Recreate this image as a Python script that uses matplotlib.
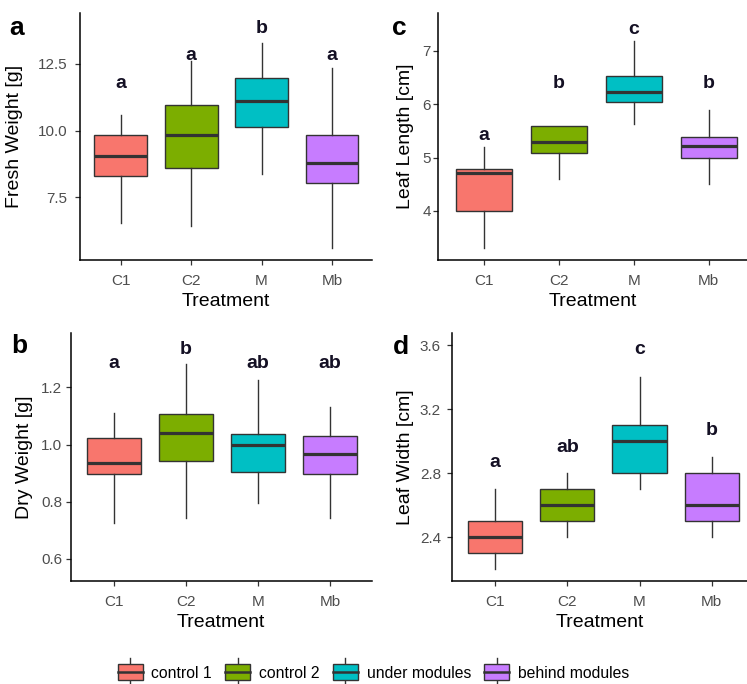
import matplotlib
matplotlib.use("Agg")
import matplotlib.pyplot as plt
from matplotlib.patches import Rectangle, Patch
from matplotlib.lines import Line2D
from matplotlib.legend_handler import HandlerBase

plt.rcParams['font.family'] = ['Liberation Sans', 'DejaVu Sans']

# categories
treatments = ["C1", "C2", "M", "Mb"]
group_names = ["control 1", "control 2", "under modules", "behind modules"]

# fresh weight [g]  (panel a)
fresh_low = [6.54, 6.41, 8.35, 5.58]
fresh_q1 = [8.29, 8.59, 10.15, 8.04]
fresh_med = [9.04, 9.85, 11.11, 8.78]
fresh_q3 = [9.84, 10.94, 11.96, 9.84]
fresh_high = [10.57, 12.59, 13.28, 12.34]
fresh_letters = ["a", "a", "b", "a"]
fresh_letter_y = [11.60, 12.65, 13.65, 12.65]

# dry weight [g]  (panel b)
dry_low = [0.726, 0.745, 0.794, 0.745]
dry_q1 = [0.896, 0.944, 0.904, 0.896]
dry_med = [0.937, 1.041, 1.000, 0.966]
dry_q3 = [1.023, 1.108, 1.036, 1.031]
dry_high = [1.111, 1.283, 1.227, 1.132]
dry_letters = ["a", "b", "ab", "ab"]
dry_letter_y = [1.266, 1.316, 1.266, 1.266]

# leaf length [cm]  (panel c)
len_low = [3.30, 4.60, 5.62, 4.50]
len_q1 = [4.00, 5.08, 6.04, 5.00]
len_med = [4.71, 5.30, 6.22, 5.21]
len_q3 = [4.79, 5.60, 6.53, 5.39]
len_high = [5.19, 5.60, 7.19, 5.90]
len_letters = ["a", "b", "c", "b"]
len_letter_y = [5.33, 6.30, 7.32, 6.30]

# leaf width [cm]  (panel d)
wid_low = [2.2, 2.4, 2.7, 2.4]
wid_q1 = [2.3, 2.5, 2.8, 2.5]
wid_med = [2.4, 2.6, 3.0, 2.6]
wid_q3 = [2.5, 2.7, 3.1, 2.8]
wid_high = [2.7, 2.8, 3.4, 2.9]
wid_letters = ["a", "ab", "c", "b"]
wid_letter_y = [2.837, 2.935, 3.544, 3.039]

colors = ["#F8766D", "#7CAE00", "#00BFC4", "#C77CFF"]
edge = "#333333"


def panel(ax, low, q1, med, q3, high, letters, letter_y, yticks, yticklabels,
          ylim, xlim, ylabel, ylab_x, ypad):
    stats = []
    for i in range(len(treatments)):
        stats.append(dict(whislo=low[i], q1=q1[i], med=med[i], q3=q3[i],
                          whishi=high[i], fliers=[]))
    pos = list(range(1, len(treatments) + 1))
    bp = ax.bxp(stats, positions=pos, widths=0.75, patch_artist=True,
                showcaps=False, showfliers=False,
                boxprops=dict(edgecolor=edge, linewidth=1.0),
                medianprops=dict(color=edge, linewidth=2.3, solid_capstyle='butt'),
                whiskerprops=dict(color=edge, linewidth=1.0))
    for b, c in zip(bp['boxes'], colors):
        b.set_facecolor(c)
    for p, t, y in zip(pos, letters, letter_y):
        ax.text(p, y, t, ha='center', va='baseline', fontsize=14,
                fontweight='bold', color='#141024')
    ax.set_xlim(*xlim)
    ax.set_ylim(*ylim)
    ax.set_xticks(pos)
    ax.set_xticklabels(treatments)
    ax.set_yticks(yticks)
    ax.set_yticklabels(yticklabels)
    for s in ['top', 'right']:
        ax.spines[s].set_visible(False)
    for s in ['left', 'bottom']:
        ax.spines[s].set_linewidth(1.1)
        ax.spines[s].set_color('black')
    ax.tick_params(axis='both', colors='#333333', labelcolor='#4D4D4D',
                   labelsize=11, length=3.5, width=0.9)
    ax.tick_params(axis='x', pad=6.5)
    ax.tick_params(axis='y', pad=ypad)
    ax.set_xlabel("Treatment", fontsize=14)
    ax.set_ylabel(ylabel, fontsize=14)
    ax.xaxis.set_label_coords(0.5, -0.133)
    ax.yaxis.set_label_coords(ylab_x, 0.5)


class BoxKey(HandlerBase):
    def create_artists(self, legend, orig_handle, xdescent, ydescent,
                       width, height, fontsize, trans):
        cx = width / 2 - xdescent
        cy = height / 2 - ydescent
        bh = 12.0
        wh = 9.8
        fc = orig_handle.get_facecolor()
        wl = Line2D([cx, cx], [cy - wh, cy + wh], color=edge, lw=1.0,
                    transform=trans)
        r = Rectangle((-xdescent, cy - bh / 2), width, bh, facecolor=fc,
                      edgecolor=edge, lw=1.0, transform=trans)
        ml = Line2D([-xdescent, width - xdescent], [cy, cy], color=edge,
                    lw=1.8, transform=trans)
        return [wl, r, ml]


fig = plt.figure(figsize=(7.47, 6.84), dpi=100)
W, H = 747.0, 684.0

ax_a = fig.add_axes([80 / W, 1 - 260 / H, 292 / W, 247 / H])
ax_c = fig.add_axes([438.3 / W, 1 - 260 / H, 308.7 / W, 247 / H])
ax_b = fig.add_axes([70.7 / W, 1 - 581 / H, 301 / W, 247.7 / H])
ax_d = fig.add_axes([452 / W, 1 - 581 / H, 295 / W, 247.7 / H])

panel(ax_a, fresh_low, fresh_q1, fresh_med, fresh_q3, fresh_high,
      fresh_letters, fresh_letter_y, [7.5, 10.0, 12.5], ["7.5", "10.0", "12.5"],
      (5.14, 14.41), (0.42, 4.57), "Fresh Weight [g]", -0.195, 5.5)
panel(ax_c, len_low, len_q1, len_med, len_q3, len_high,
      len_letters, len_letter_y, [4, 5, 6, 7], ["4", "5", "6", "7"],
      (3.08, 7.71), (0.39, 4.51), "Leaf Length [cm]", -0.079, 2)
panel(ax_b, dry_low, dry_q1, dry_med, dry_q3, dry_high,
      dry_letters, dry_letter_y, [0.6, 0.8, 1.0, 1.2], ["0.6", "0.8", "1.0", "1.2"],
      (0.523, 1.389), (0.40, 4.58), "Dry Weight [g]", -0.125, 2.5)
panel(ax_d, wid_low, wid_q1, wid_med, wid_q3, wid_high,
      wid_letters, wid_letter_y, [2.4, 2.8, 3.2, 3.6], ["2.4", "2.8", "3.2", "3.6"],
      (2.128, 3.673), (0.40, 4.49), "Leaf Width [cm]", -0.129, 4.5)

# panel tags
fig.text(9.3 / W, 1 - 35 / H, "a", fontsize=19, fontweight='bold', va='baseline')
fig.text(391.7 / W, 1 - 35 / H, "c", fontsize=19, fontweight='bold', va='baseline')
fig.text(11.7 / W, 1 - 353 / H, "b", fontsize=19, fontweight='bold', va='baseline')
fig.text(393.3 / W, 1 - 354 / H, "d", fontsize=19, fontweight='bold', va='baseline')

handles = [Patch(facecolor=c, edgecolor=edge) for c in colors]
fig.legend(handles, group_names, loc='center', bbox_to_anchor=(0.5, 1 - 673 / H),
           ncol=4, frameon=False, fontsize=11.3, handlelength=1.6,
           handletextpad=0.55, columnspacing=0.85,
           handler_map={Patch: BoxKey()})

fig.savefig("out.png", dpi=100)
